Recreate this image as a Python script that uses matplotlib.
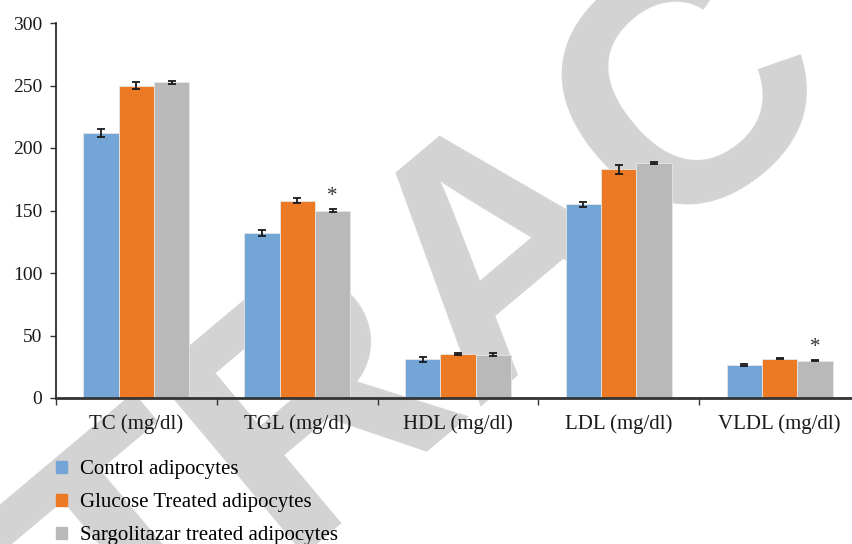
import numpy as np
import matplotlib
matplotlib.use('Agg')
import matplotlib.pyplot as plt
import matplotlib.patches as mpatches

categories = ['TC (mg/dl)', 'TGL (mg/dl)', 'HDL (mg/dl)', 'LDL (mg/dl)', 'VLDL (mg/dl)']
series_names = ['Control adipocytes', 'Glucose Treated adipocytes', 'Sargolitazar treated adipocytes']

control = [212, 132, 31, 155, 26.5]
glucose = [250, 158, 35.3, 183, 31.5]
sargo = [252.5, 150, 34.5, 188, 30]

control_err = [3, 2.5, 2.2, 2.2, 0.6]
glucose_err = [3, 2, 0.6, 3.5, 0.5]
sargo_err = [1.5, 1, 1.2, 1, 0.5]

# which sargolitazar bars carry a significance star
star_idx = [1, 4]

colors = ['#73a5d6', '#ec7a24', '#b9b9b9']

plt.rcParams['font.family'] = ['Liberation Serif', 'DejaVu Serif']

fig = plt.figure(figsize=(8.52, 5.44), dpi=100)
ax = fig.add_axes([56 / 852, 1 - 398 / 544, 804 / 852, 375 / 544])
ax.patch.set_alpha(0)

# watermark behind everything
fig.text(564 / 852, 1 - 318 / 544, 'RETRACTED', rotation=40, rotation_mode='anchor',
         fontsize=244, color='#d3d3d3', fontweight='bold', family='Liberation Sans',
         ha='center', va='baseline', zorder=-5)

x = np.arange(len(categories))
w = 0.22
allvals = [control, glucose, sargo]
allerr = [control_err, glucose_err, sargo_err]
for i in range(3):
    ax.bar(x + (i - 1) * w, allvals[i], w, color=colors[i], edgecolor='#e6e6e6',
           linewidth=0.6, yerr=allerr[i],
           error_kw=dict(ecolor='#1a1a1a', elinewidth=1.3, capsize=3, capthick=1.3),
           zorder=2)

for k in star_idx:
    ax.text(x[k] + w, sargo[k] + sargo_err[k] + 2.5, '*', ha='center', va='bottom',
            fontsize=15, color='#333333')

ax.set_xlim(-0.5, len(categories) - 0.5)
ax.set_ylim(0, 300)
ax.set_yticks(range(0, 301, 50))
ax.set_xticks(x)
ax.set_xticklabels(categories)
ax.set_xticks(np.arange(-0.5, len(categories), 1), minor=True)
ax.tick_params(axis='x', which='major', length=0, pad=12, labelsize=15, colors='#1a1a1a')
ax.tick_params(axis='x', which='minor', length=5, width=1, color='#333333')
ax.tick_params(axis='y', length=4, width=1, pad=6, labelsize=14, colors='#333333',
               labelcolor='#1a1a1a')

for s in ['top', 'right']:
    ax.spines[s].set_visible(False)
ax.spines['left'].set_color('#1a1a1a')
ax.spines['left'].set_linewidth(1.2)
ax.spines['bottom'].set_color('#333333')
ax.spines['bottom'].set_linewidth(2)

handles = [mpatches.Patch(color=c, label=n) for c, n in zip(colors, series_names)]
fig.legend(handles=handles, loc='upper left', bbox_to_anchor=(56 / 852, 1 - 460 / 544),
           frameon=False, fontsize=15, handlelength=0.52, handleheight=0.52,
           handletextpad=0.65, labelspacing=0.68, borderpad=0, borderaxespad=0)

fig.savefig('out.png', dpi=100)
